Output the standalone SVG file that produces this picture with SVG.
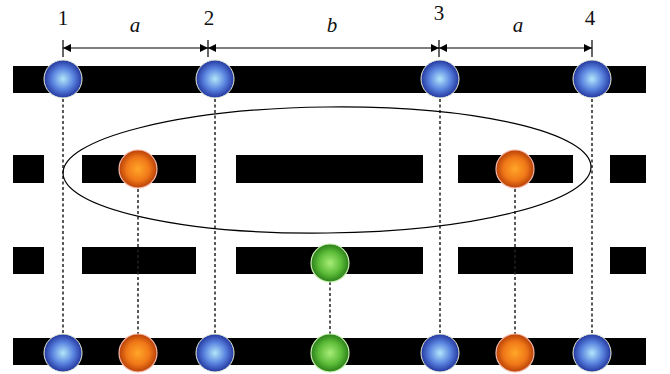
<svg xmlns="http://www.w3.org/2000/svg" width="670" height="374" viewBox="0 0 670 374">
<defs>
<radialGradient id="gb" cx="0.5" cy="0.5" r="0.5">
<stop offset="0" stop-color="#b4e6fa"/>
<stop offset="0.55" stop-color="#5b86e0"/>
<stop offset="1" stop-color="#2436a0"/>
</radialGradient>
<radialGradient id="go" cx="0.5" cy="0.5" r="0.5">
<stop offset="0" stop-color="#ffa628"/>
<stop offset="0.6" stop-color="#f07818"/>
<stop offset="1" stop-color="#b84008"/>
</radialGradient>
<radialGradient id="gg" cx="0.5" cy="0.5" r="0.5">
<stop offset="0" stop-color="#a8ec78"/>
<stop offset="0.6" stop-color="#5cbc38"/>
<stop offset="1" stop-color="#2a7e18"/>
</radialGradient>
<marker id="ah" viewBox="0 0 10 10" refX="10" refY="5" markerWidth="8" markerHeight="8" markerUnits="userSpaceOnUse" orient="auto-start-reverse">
<path d="M0,0 L10,5 L0,10 Z" fill="#000"/>
</marker>
<style>
.bar{fill:#000}
.dash{stroke:#222;stroke-width:1.5;stroke-dasharray:3,2.5;fill:none}
.blue{fill:url(#gb);stroke:#e8f0d8;stroke-width:1}
.orange{fill:url(#go);stroke:#f4b8a8;stroke-width:1.2}
.green{fill:url(#gg);stroke:#c8f0b0;stroke-width:1.2}
.lbl{font-family:"Liberation Serif",serif;font-size:21px;fill:#111;text-anchor:middle}
.it{font-style:italic}
.dim{stroke:#000;stroke-width:1.2;fill:none}
</style>
</defs>
<g id="bars">
<rect class="bar" x="13" y="66" width="633" height="27"/>
<rect class="bar" x="13" y="155" width="31" height="28"/>
<rect class="bar" x="82" y="155" width="114" height="28"/>
<rect class="bar" x="236" y="155" width="187" height="28"/>
<rect class="bar" x="458" y="155" width="115" height="28"/>
<rect class="bar" x="610" y="155" width="36" height="28"/>
<rect class="bar" x="13" y="247" width="31" height="27"/>
<rect class="bar" x="82" y="247" width="114" height="27"/>
<rect class="bar" x="236" y="247" width="187" height="27"/>
<rect class="bar" x="458" y="247" width="115" height="27"/>
<rect class="bar" x="610" y="247" width="36" height="27"/>
<rect class="bar" x="13" y="338" width="633" height="27"/>
</g>
<g id="connectors">
<line class="dash" x1="63" y1="99" x2="63" y2="334"/>
<line class="dash" x1="215" y1="99" x2="215" y2="334"/>
<line class="dash" x1="440" y1="99" x2="440" y2="334"/>
<line class="dash" x1="592" y1="99" x2="592" y2="334"/>
<line class="dash" x1="138" y1="189" x2="138" y2="334"/>
<line class="dash" x1="515" y1="189" x2="515" y2="334"/>
<line class="dash" x1="330" y1="282" x2="330" y2="334"/>
</g>
<g id="dimensions">
<line class="dim" x1="63" y1="40" x2="63" y2="57"/>
<line class="dim" x1="208" y1="40" x2="208" y2="57"/>
<line class="dim" x1="439" y1="40" x2="439" y2="57"/>
<line class="dim" x1="592" y1="40" x2="592" y2="57"/>
<line class="dim" x1="63" y1="48" x2="208" y2="48" marker-start="url(#ah)" marker-end="url(#ah)"/>
<line class="dim" x1="208" y1="48" x2="439" y2="48" marker-start="url(#ah)" marker-end="url(#ah)"/>
<line class="dim" x1="439" y1="48" x2="592" y2="48" marker-start="url(#ah)" marker-end="url(#ah)"/>
<text class="lbl" x="63" y="25">1</text>
<text class="lbl" x="209" y="25">2</text>
<text class="lbl" x="439" y="20">3</text>
<text class="lbl" x="590" y="25">4</text>
<text class="lbl it" x="135" y="32">a</text>
<text class="lbl it" x="332" y="32">b</text>
<text class="lbl it" x="518" y="32">a</text>
</g>
<g id="ellipse">
<ellipse cx="327" cy="170" rx="264" ry="63" fill="none" stroke="#000" stroke-width="1.2" transform="rotate(-0.7 327 170)"/>
</g>
<g id="node-row1">
<circle class="blue" cx="63" cy="79" r="19"/>
<circle class="blue" cx="215" cy="79" r="19"/>
<circle class="blue" cx="440" cy="79" r="19"/>
<circle class="blue" cx="592" cy="79" r="19"/>
</g>
<g id="node-row2">
<circle class="orange" cx="138" cy="169" r="19"/>
<circle class="orange" cx="515" cy="169" r="19"/>
</g>
<g id="node-row3">
<circle class="green" cx="330" cy="263" r="19"/>
</g>
<g id="node-row4">
<circle class="blue" cx="63" cy="353" r="19"/>
<circle class="orange" cx="138" cy="353" r="19"/>
<circle class="blue" cx="215" cy="353" r="19"/>
<circle class="green" cx="330" cy="353" r="19"/>
<circle class="blue" cx="440" cy="353" r="19"/>
<circle class="orange" cx="515" cy="353" r="19"/>
<circle class="blue" cx="592" cy="353" r="19"/>
</g>
</svg>
